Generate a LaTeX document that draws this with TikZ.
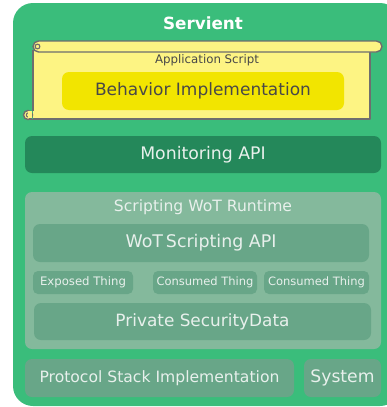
\documentclass[tikz,border=0pt]{standalone}
\usepackage{fontspec}
\setmainfont{DejaVu Sans}
\definecolor{outergreen}{HTML}{3ABD7B}
\definecolor{mongreen}{HTML}{24885A}
\definecolor{rtgreen}{HTML}{84B99C}
\definecolor{ingreen}{HTML}{68A688}
\definecolor{lighttext}{HTML}{E8F0EC}
\definecolor{scrollfill}{HTML}{FDF483}
\definecolor{behfill}{HTML}{F2E500}
\definecolor{scrollline}{HTML}{6E6E6E}
\definecolor{darktext}{HTML}{484848}
\begin{document}
\begin{tikzpicture}[x=1pt,y=-1pt,
  box/.style={rounded corners=7pt, inner sep=0pt},
  inbox/.style={box, fill=ingreen, text=lighttext},
  scrollline/.style={draw=scrollline, line width=1.4pt}]
\useasboundingbox (0,0) rectangle (387,407);
\clip (0,0) rectangle (387,407);
% outer servient
\fill[outergreen, rounded corners=20pt] (13,3) rectangle (400,406);
\node[text=white, font=\fontsize{16.8}{19}\selectfont\bfseries] (servient) at (203,23) {Servient};
% scroll
\fill[scrollfill] (33,50) rectangle (370,119);
\draw[scrollline, line join=round] (33,50) -- (33,111) (33,119) -- (370,119) -- (370,52);
\draw[scrollline, fill=scrollfill, rounded corners=5.5pt] (33,41) rectangle (382,52);
\draw[scrollline, line width=1.1pt] (37.5,46.5) circle[radius=2.4];
\draw[scrollline, fill=scrollfill] (28,115) circle[radius=4.5];
\draw[scrollline, line width=1.1pt] (28.5,115) circle[radius=2.2];
\fill[scrollfill] (28,110.5) rectangle (32.3,118.3);
\draw[scrollline] (28,119.5) -- (33.7,119.5);
\node[text=darktext, font=\fontsize{11.8}{14}\selectfont] (appscript) at (207,60) {Application Script};
\node[box, fill=behfill, text=darktext, minimum width=282pt, minimum height=38pt, font=\fontsize{17}{20}\selectfont] (behavior) at (203,91) {Behavior Implementation};
% monitoring
\node[box, fill=mongreen, text=lighttext, minimum width=356pt, minimum height=37pt, font=\fontsize{17.3}{20}\selectfont] (monitor) at (203,154.5) {Monitoring API};
% runtime
\node[box, fill=rtgreen, minimum width=356pt, minimum height=157pt] (runtime) at (203,270.5) {};
\node[text=lighttext, font=\fontsize{15.6}{18}\selectfont] (rtlabel) at (203,207) {Scripting WoT Runtime};
\node[inbox, minimum width=336pt, minimum height=38pt, font=\fontsize{17.4}{20}\selectfont] (wotapi) at (201,243) {WoT\,Scripting API};
\node[inbox, rounded corners=5pt, minimum width=100pt, minimum height=23pt, font=\fontsize{11.7}{14}\selectfont] (exposed) at (83,282.5) {Exposed Thing};
\node[inbox, rounded corners=5pt, minimum width=104pt, minimum height=23pt, font=\fontsize{11.5}{14}\selectfont] (consumedA) at (205,282.5) {Consumed Thing};
\node[inbox, rounded corners=5pt, minimum width=105pt, minimum height=23pt, font=\fontsize{11.5}{14}\selectfont] (consumedB) at (316.5,282.5) {Consumed Thing};
\node[inbox, minimum width=337pt, minimum height=37pt, font=\fontsize{16.9}{20}\selectfont] (security) at (202.5,321.5) {Private SecurityData};
% bottom
\node[inbox, minimum width=269pt, minimum height=38pt, font=\fontsize{15.6}{18}\selectfont] (protocol) at (159.5,378) {Protocol Stack Implementation};
\node[inbox, minimum width=77pt, minimum height=38pt, font=\fontsize{17.2}{20}\selectfont] (system) at (342.5,378) {System};
\end{tikzpicture}
\end{document}
